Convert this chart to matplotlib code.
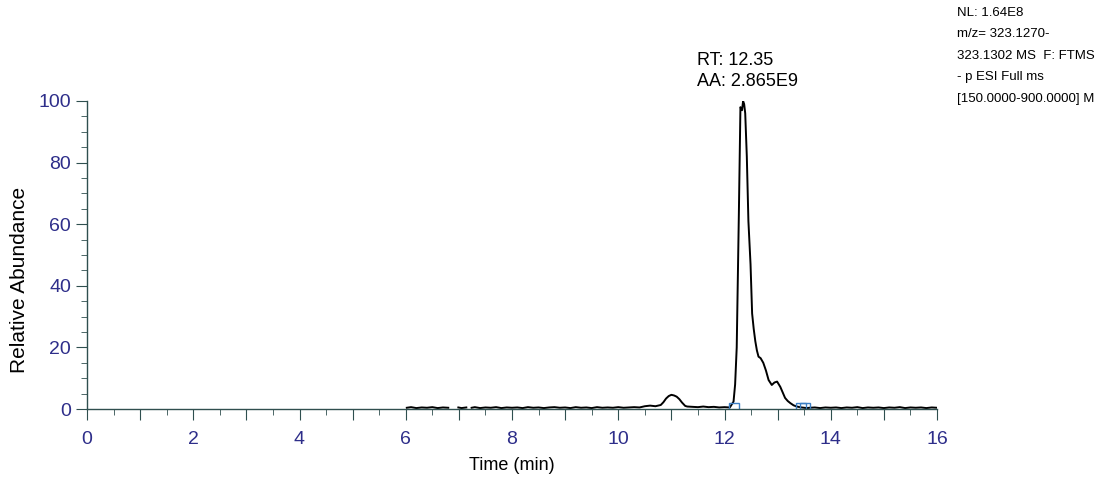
import numpy as np
import matplotlib.pyplot as plt
from matplotlib.ticker import MultipleLocator, FuncFormatter

plt.rcParams["font.family"] = ["Liberation Sans", "DejaVu Sans"]

nan = np.nan

# chromatogram trace (time in min, relative abundance in %)
time_min = [
    6.02, 6.1, 6.2, 6.3, 6.4, 6.5, 6.6, 6.7, 6.8, 6.9,
    6.99, 7.05, 7.14, 7.2,
    7.24, 7.3, 7.4, 7.5, 7.6, 7.7, 7.8, 7.9, 8.0, 8.1, 8.2, 8.3, 8.4, 8.5,
    8.6, 8.7, 8.8, 8.9, 9.0, 9.1, 9.2, 9.3, 9.4, 9.5, 9.6, 9.7, 9.8, 9.9,
    10.0, 10.1, 10.2, 10.3, 10.4, 10.5, 10.6, 10.7, 10.8, 10.85, 10.9, 10.95,
    11.0, 11.05, 11.1, 11.15, 11.2, 11.26, 11.3, 11.4, 11.5, 11.6, 11.7,
    11.8, 11.9, 12.0, 12.1, 12.17, 12.2, 12.23, 12.27, 12.30, 12.33, 12.35,
    12.37, 12.39, 12.42, 12.45, 12.49, 12.52, 12.55, 12.58, 12.61, 12.64,
    12.68, 12.73, 12.78, 12.83, 12.89, 12.94, 12.99, 13.05, 13.1, 13.14,
    13.19, 13.24, 13.3, 13.36, 13.45, 13.55, 13.6, 13.7, 13.8, 13.9, 14.0,
    14.1, 14.2, 14.3, 14.4, 14.5, 14.6, 14.7, 14.8, 14.9, 15.0, 15.1, 15.2,
    15.3, 15.4, 15.5, 15.6, 15.7, 15.8, 15.9, 16.0,
]
abundance = [
    0.4, 0.6, 0.3, 0.5, 0.4, 0.6, 0.3, 0.5, 0.4, nan,
    0.5, 0.3, 0.5, nan,
    0.4, 0.6, 0.3, 0.5, 0.4, 0.6, 0.3, 0.5, 0.4, 0.5, 0.3, 0.6, 0.4, 0.5,
    0.3, 0.5, 0.6, 0.4, 0.5, 0.3, 0.6, 0.4, 0.5, 0.3, 0.6, 0.4, 0.5, 0.4,
    0.6, 0.4, 0.5, 0.6, 0.5, 0.9, 1.1, 0.9, 1.3, 2.2, 3.4, 4.2,
    4.6, 4.4, 4.0, 3.2, 2.1, 1.0, 0.8, 0.7, 0.6, 0.8, 0.6,
    0.7, 0.5, 0.6, 0.5, 2.4, 8.0, 20.0, 63.0, 98.0, 97.0, 100.0,
    99.0, 96.0, 82.0, 61.0, 47.0, 31.0, 26.0, 22.0, 19.0, 17.0,
    16.5, 15.0, 12.5, 9.4, 7.8, 8.6, 8.9, 7.2, 5.2, 3.6,
    2.6, 1.9, 1.2, 0.8, 0.5, 0.3, 0.4, 0.5, 0.3, 0.5, 0.4,
    0.5, 0.3, 0.5, 0.4, 0.6, 0.3, 0.5, 0.4, 0.5, 0.3, 0.5, 0.4,
    0.6, 0.3, 0.5, 0.4, 0.5, 0.3, 0.5, 0.4,
]

peak_rt = 12.35
peak_area = "2.865E9"
bound_t = [12.17, 13.44, 13.52]
bound_y = [0.4, 0.4, 0.4]

header = [
    "NL: 1.64E8",
    "m/z= 323.1270-",
    "323.1302 MS  F: FTMS",
    "- p ESI Full ms",
    "[150.0000-900.0000] M",
]

axis_col = "#2f4f4f"
tick_col = "#2e2e8a"

fig = plt.figure(figsize=(11, 4.8), dpi=100)
ax = fig.add_axes([87 / 1100, 1 - 409 / 480, 850 / 1100, 308 / 480])

ax.plot(time_min, abundance, color="black", lw=1.4)
ax.plot(bound_t, bound_y, linestyle="None", marker="s", ms=7,
        mfc="none", mec="#3d7fc4", mew=1.0)

ax.annotate(f"RT: {peak_rt}\nAA: {peak_area}", xy=(peak_rt, 100),
            xytext=(-33, 8), textcoords="offset points",
            ha="left", va="bottom", fontsize=13, linespacing=1.3)

ax.set_xlim(0, 16)
ax.set_ylim(0, 100)
ax.xaxis.set_major_locator(MultipleLocator(1))
ax.xaxis.set_major_formatter(FuncFormatter(lambda v, p: f"{v:.0f}" if round(v) % 2 == 0 else ""))
ax.xaxis.set_minor_locator(MultipleLocator(0.5))
ax.yaxis.set_major_locator(MultipleLocator(20))
ax.yaxis.set_minor_locator(MultipleLocator(5))

for s in ["top", "right"]:
    ax.spines[s].set_visible(False)
for s in ["left", "bottom"]:
    ax.spines[s].set_color(axis_col)
    ax.spines[s].set_linewidth(1.0)

ax.tick_params(axis="both", which="both", colors=axis_col, labelcolor=tick_col,
               labelsize=14, direction="out")
ax.tick_params(axis="both", which="major", length=8)
ax.tick_params(axis="both", which="minor", length=4)
ax.tick_params(axis="x", pad=8)

ax.set_xlabel("Time (min)", fontsize=13, labelpad=6)
ax.set_ylabel("Relative Abundance", fontsize=15)
ax.yaxis.set_label_coords(-0.068, 0.42)

fig.text(957 / 1100, 1 - 7 / 480, "\n".join(header), fontsize=9.5,
         va="top", ha="left", linespacing=2.05)

fig.savefig("out.png", dpi=100)
